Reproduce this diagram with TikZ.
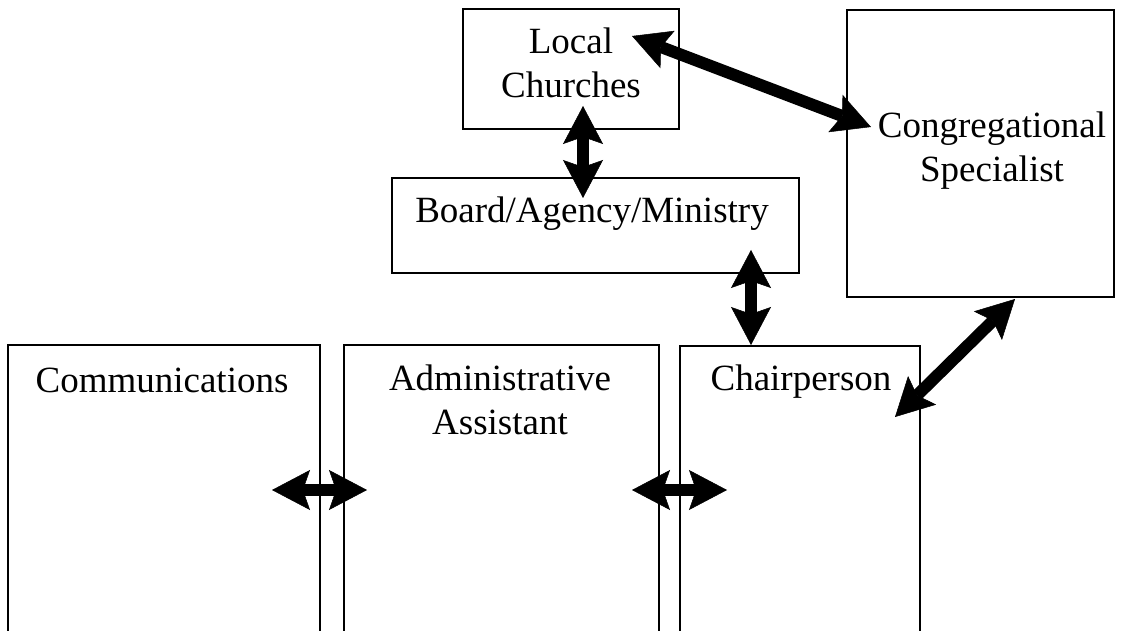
\documentclass[tikz,border=0pt]{standalone}
\usepackage{fontspec}
\setmainfont{Liberation Serif}
\usetikzlibrary{arrows.meta}
\tikzset{
  box/.style={draw, line width=1.6pt, inner sep=0pt, outer sep=0pt, anchor=north west},
  lbl/.style={anchor=base, align=center, inner sep=0pt, font=\fontsize{37}{44}\selectfont},
  dbl/.style={line width=12pt, {Stealth[length=38pt,width=40pt,inset=7pt,line width=0.5pt]}-{Stealth[length=38pt,width=40pt,inset=7pt,line width=0.5pt]}}
}
\begin{document}
\begin{tikzpicture}[x=1pt,y=-1pt]
\useasboundingbox (0,0) rectangle (1125,631);
\clip (0,0) rectangle (1125,631);
% boxes
\node[box, minimum width=216pt, minimum height=120pt] (local) at (463,9) {};
\node[box, minimum width=267pt, minimum height=287pt] (cong) at (847,10) {};
\node[box, minimum width=407pt, minimum height=95pt] (board) at (392,178) {};
\node[box, minimum width=312pt, minimum height=360pt] (comm) at (8,345) {};
\node[box, minimum width=315pt, minimum height=360pt] (admin) at (344,345) {};
\node[box, minimum width=240pt, minimum height=360pt] (chair) at (680,346) {};
% labels (base anchor = baseline of the last line)
\node[lbl] (tlocal) at (571,98) {Local\\Churches};
\node[lbl] (tcong) at (992,182) {Congregational\\Specialist};
\node[lbl] (tboard) at (592,223) {Board/Agency/Ministry};
\node[lbl] (tcomm) at (162,392) {Communications};
\node[lbl] (tadmin) at (500,434) {Administrative\\Assistant};
\node[lbl] (tchair) at (801,390) {Chairperson};
% arrow end points
\coordinate (p1a) at (632,36);
\coordinate (p1b) at (871,127);
\coordinate (p2a) at (583,106);
\coordinate (p2b) at (583,198);
\coordinate (p3a) at (751,250);
\coordinate (p3b) at (751,345);
\coordinate (p4a) at (1015,299);
\coordinate (p4b) at (895,417);
\coordinate (p5a) at (272,490);
\coordinate (p5b) at (367,490);
\coordinate (p6a) at (632,490);
\coordinate (p6b) at (727,490);
% arrows
\draw[dbl] (p1a) -- (p1b);
\draw[dbl] (p2a) -- (p2b);
\draw[dbl] (p3a) -- (p3b);
\draw[dbl] (p4a) -- (p4b);
\draw[dbl] (p5a) -- (p5b);
\draw[dbl] (p6a) -- (p6b);
\end{tikzpicture}
\end{document}
